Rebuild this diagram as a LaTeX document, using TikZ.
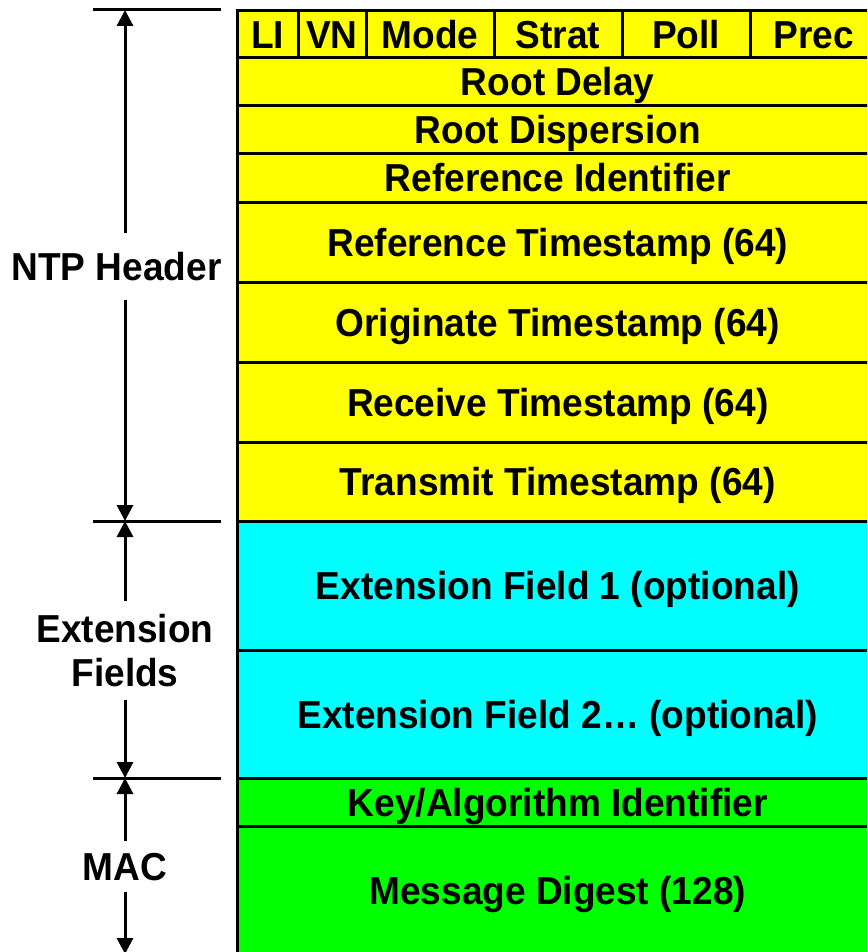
\documentclass[tikz,border=0pt]{standalone}
\usepackage{fontspec}
\setmainfont{Liberation Sans}[FakeStretch=0.95]
\usetikzlibrary{arrows.meta}

\definecolor{hdr}{RGB}{255,255,0}
\definecolor{ext}{RGB}{0,255,255}
\definecolor{mac}{RGB}{0,255,0}

\tikzset{
  labelfont/.style={font=\fontsize{39}{44}\selectfont\bfseries},
  field/.style={draw=black, line width=3pt, inner sep=0pt, labelfont,
    text height=28pt, text depth=0pt},
  hdrfield/.style={field, fill=hdr},
  extfield/.style={field, fill=ext},
  macfield/.style={field, fill=mac},
  span/.style={inner xsep=0pt, align=center, labelfont},
  oneline/.style={text height=28pt, text depth=0pt},
  tick/.style={line width=3pt},
  dimarrow/.style={line width=3pt, -{Triangle[width=16pt,length=16pt]}}
}

\begin{document}
\begin{tikzpicture}[x=1pt,y=-1pt]
  \useasboundingbox (0,0) rectangle (867,952);
  \clip (0,0) rectangle (867,952);

  % first word of the header: LI VN Mode Strat Poll Prec
  \node[hdrfield, minimum width=60.5pt, minimum height=47.5pt] (li)    at (267.75,34.25) {LI};
  \node[hdrfield, minimum width=68pt,   minimum height=47.5pt] (vn)    at (332,34.25)    {VN};
  \node[hdrfield, minimum width=128pt,  minimum height=47.5pt] (mode)  at (430,34.25)    {Mode};
  \node[hdrfield, minimum width=128pt,  minimum height=47.5pt] (strat) at (558,34.25)    {Strat};
  \node[hdrfield, minimum width=128pt,  minimum height=47.5pt] (poll)  at (686,34.25)    {Poll};
  \node[hdrfield, minimum width=128pt,  minimum height=47.5pt] (prec)  at (814,34.25)    {Prec};

  % remaining header words and timestamps
  \node[hdrfield, minimum width=640.5pt, minimum height=48pt] (rdelay) at (557.75,82)  {Root Delay};
  \node[hdrfield, minimum width=640.5pt, minimum height=48pt] (rdisp)  at (557.75,130) {Root Dispersion};
  \node[hdrfield, minimum width=640.5pt, minimum height=48pt] (refid)  at (557.75,178) {Reference Identifier};
  \node[hdrfield, minimum width=640.5pt, minimum height=80pt] (refts)  at (557.75,242) {Reference Timestamp (64)};
  \node[hdrfield, minimum width=640.5pt, minimum height=80pt] (orgts)  at (557.75,322) {Originate Timestamp (64)};
  \node[hdrfield, minimum width=640.5pt, minimum height=80pt] (rcvts)  at (557.75,402) {Receive Timestamp (64)};
  \node[hdrfield, minimum width=640.5pt, minimum height=79pt] (xmtts)  at (557.75,481.5) {Transmit Timestamp (64)};

  % extension fields
  \node[extfield, minimum width=640.5pt, minimum height=129pt] (ef1) at (557.75,585.5) {Extension Field 1 (optional)};
  \node[extfield, minimum width=640.5pt, minimum height=128pt] (ef2) at (557.75,714)   {Extension Field 2… (optional)};

  % message authentication code
  \node[macfield, minimum width=640.5pt, minimum height=48pt]  (keyid)  at (557.75,802) {Key/Algorithm Identifier};
  \node[macfield, minimum width=640.5pt, minimum height=129pt] (digest) at (557.75,890.5) {Message Digest (128)};

  % boundary ticks on the left
  \coordinate (t0) at (125,10);
  \coordinate (t1) at (125,521);
  \coordinate (t2) at (125,778);
  \coordinate (t3) at (125,954);
  \draw[tick] (93,10)  -- (221,10);
  \draw[tick] (93,521) -- (221,521);
  \draw[tick] (93,778) -- (221,778);

  % span labels
  \node[span, oneline, inner ysep=19pt] (lntp) at (116.5,266.5) {NTP Header};
  \node[span, inner ysep=12.5pt] (lext) at (125,650.5) {Extension\\Fields};
  \node[span, oneline, inner ysep=11pt] (lmac) at (125,866.5) {MAC};

  % dimension arrows
  \draw[dimarrow] (lntp.north -| t0) -- (t0);
  \draw[dimarrow] (lntp.south -| t1) -- (t1);
  \draw[dimarrow] (lext.north) -- (t1);
  \draw[dimarrow] (lext.south) -- (t2);
  \draw[dimarrow] (lmac.north) -- (t2);
  \draw[dimarrow] (lmac.south) -- (t3);
\end{tikzpicture}
\end{document}
